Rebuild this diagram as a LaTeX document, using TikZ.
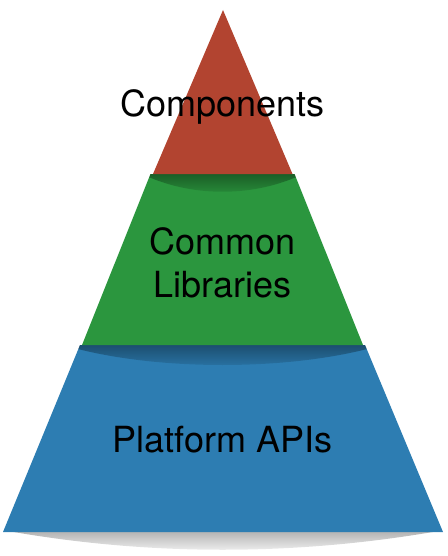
\documentclass[tikz,border=0pt]{standalone}
\usepackage{fontspec}
\setmainfont{TeX Gyre Heros}
\usetikzlibrary{fadings}
\definecolor{layerred}{RGB}{178,68,48}
\definecolor{layergreen}{RGB}{43,150,62}
\definecolor{layerblue}{RGB}{45,125,178}
\tikzfading[name=fadedown, top color=transparent!0, bottom color=transparent!100]
\tikzset{
  layertext/.style={font=\fontsize{36}{43}\selectfont, text=black, align=center, inner sep=0pt},
  innershadow/.style={fill=black, opacity=0.38, path fading=fadedown},
}
\begin{document}
\begin{tikzpicture}[x=1pt,y=-1pt]
\useasboundingbox (0,0) rectangle (447,556);
% outer shadow under the base
\begin{scope}
  \clip (0,532) rectangle (447,556);
  \fill[black, opacity=0.3, path fading=fadedown] (8,531) .. controls (150,556) and (295,556) .. (439,531) -- cycle;
\end{scope}
% blue layer
\fill[layerblue] (80,345) -- (365,345) -- (443,532) -- (3,532) -- cycle;
\begin{scope}
  \clip (80,345) -- (365,345) -- (443,532) -- (3,532) -- cycle;
  \fill[innershadow] (60,344) .. controls (150,372) and (295,372) .. (385,344) -- cycle;
\end{scope}
% green layer
\fill[layergreen] (150.5,174) -- (294.5,174) -- (363,345) -- (82,345) -- cycle;
\begin{scope}
  \clip (150.5,174) -- (294.5,174) -- (363,345) -- (82,345) -- cycle;
  \fill[innershadow] (140,173) .. controls (190,198) and (255,198) .. (305,173) -- cycle;
\end{scope}
% red layer
\fill[layerred] (223,10) -- (292.5,174) -- (153,174) -- cycle;
% texts
\node[layertext] (comp) at (222.5,107) {Components};
\node[layertext] (libs) at (222.5,263) {Common\\Libraries};
\node[layertext] (apis) at (222.5,440) {Platform APIs};
\end{tikzpicture}
\end{document}
